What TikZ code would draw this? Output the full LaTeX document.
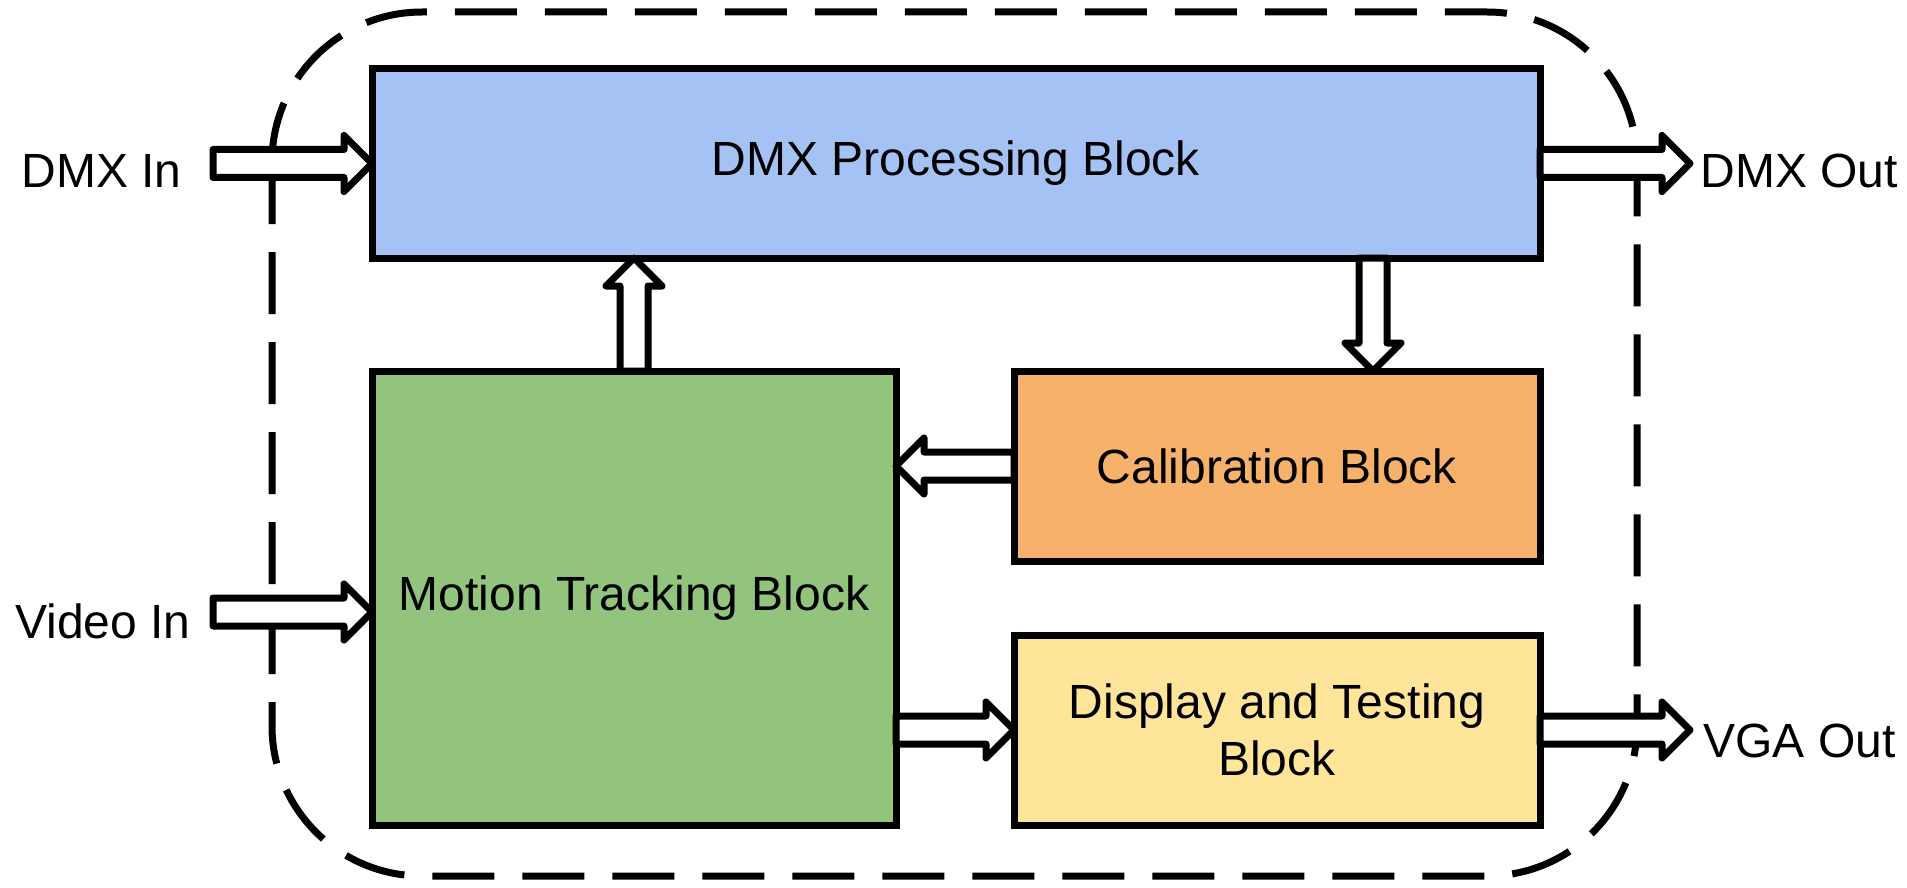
\documentclass[tikz,border=0pt]{standalone}
\usepackage{fontspec}
\setmainfont{Liberation Sans}
\usetikzlibrary{calc}

\definecolor{dmxblue}{HTML}{A4C2F4}
\definecolor{trackgreen}{HTML}{93C47D}
\definecolor{calorange}{HTML}{F6B26B}
\definecolor{testyellow}{HTML}{FFE599}

\tikzset{
  block/.style={draw, rectangle, line width=3.5pt, outer sep=0pt, align=center,
    font=\fontsize{24}{28.5}\selectfont},
  io/.style={inner sep=0pt, font=\fontsize{24}{28.5}\selectfont},
  hollow/.style={draw, fill=white, line width=3.5pt, line join=round},
  frame/.style={line width=3.5pt, dash pattern=on 31pt off 14pt, rounded corners=75pt}
}

% wide outlined arrow from #1 to #2
\newcommand{\hollowarrow}[2]{%
  \coordinate (ha-s) at ($(#2)!14pt!(#1)$);
  \draw[hollow] ($(#1)!7pt!90:(#2)$) -- ($(ha-s)!7pt!90:(#2)$)
    -- ($(ha-s)!14pt!90:(#2)$) -- (#2) -- ($(ha-s)!14pt!-90:(#2)$)
    -- ($(ha-s)!7pt!-90:(#2)$) -- ($(#1)!7pt!-90:(#2)$) -- cycle;
}

\begin{document}
\begin{tikzpicture}[x=0.5pt, y=-0.5pt]
  \useasboundingbox (0,0) rectangle (1907,888);

  % Outer boundary
  \draw[frame] (272,12) rectangle (1637,876);

  % Nodes
  \node[block, fill=dmxblue, minimum width=584pt, minimum height=94.5pt] (dmx) at (956,163.5) {DMX Processing Block};
  \node[block, fill=trackgreen, minimum width=262pt, minimum height=227pt] (track) at (634,598) {Motion Tracking Block};
  \node[block, fill=calorange, minimum width=263pt, minimum height=95pt] (calib) at (1277,466) {Calibration Block};
  \node[block, fill=testyellow, minimum width=263pt, minimum height=95pt] (disp) at (1277,730) {Display and Testing\\Block};

  \node[io, anchor=east] (dmxin) at (182,171) {DMX In};
  \node[io, anchor=east] (vidin) at (191,621) {Video In};
  \node[io, anchor=west] (dmxout) at (1700,171) {DMX Out};
  \node[io, anchor=west] (vgaout) at (1703,741) {VGA Out};

  \coordinate (dmxin-e) at (213,163.5);
  \coordinate (vidin-e) at (213,612);
  \coordinate (dmxout-w) at (1690,163.5);
  \coordinate (vgaout-w) at (1690,730);

  % Arrows
  \hollowarrow{dmxin-e}{dmx.west}
  \hollowarrow{vidin-e}{vidin-e -| track.west}
  \hollowarrow{dmx.east}{dmxout-w}
  \hollowarrow{vgaout-w -| disp.east}{vgaout-w}
  \hollowarrow{track.north}{track.north |- dmx.south}
  \hollowarrow{dmx.south -| 1373,0}{calib.north -| 1373,0}
  \hollowarrow{calib.west}{calib.west -| track.east}
  \hollowarrow{disp.west -| track.east}{disp.west}
\end{tikzpicture}
\end{document}
